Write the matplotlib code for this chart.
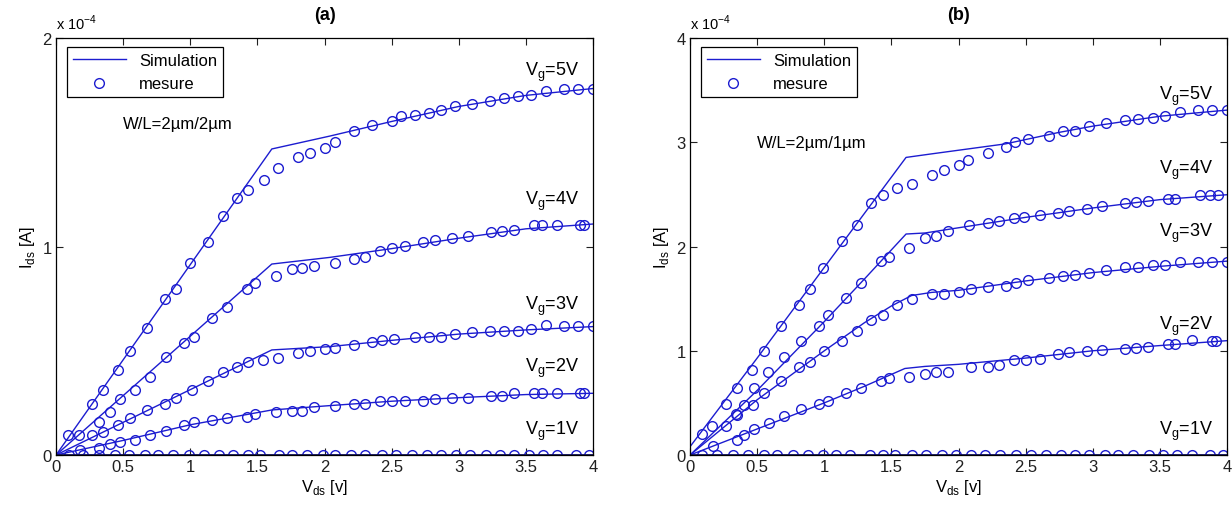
import matplotlib
matplotlib.use('Agg')
import matplotlib.pyplot as plt
from matplotlib.lines import Line2D

plt.rcParams['font.family'] = ['Liberation Sans Narrow', 'Liberation Sans', 'DejaVu Sans']
plt.rcParams['mathtext.fontset'] = 'custom'
plt.rcParams['mathtext.rm'] = 'Liberation Sans'

BLUE = '#1c1cd0'

# ---------- (a) W/L = 2um/2um, Ids in 1e-4 A ----------
a_sim_x = [0, 1.607, 2.04, 2.5, 3.0, 3.5, 4.0]
a_sim5 = [0, 1.468, 1.53, 1.60, 1.672, 1.725, 1.758]
a_sim4 = [0, 0.916, 0.948, 0.99, 1.04, 1.085, 1.108]
a_sim3 = [0, 0.504, 0.52, 0.55, 0.58, 0.60, 0.616]
a_sim2_x = [0, 0.5, 1.0, 1.607, 2.04, 2.5, 3.0, 3.5, 4.0]
a_sim2 = [0, 0.07, 0.145, 0.216, 0.237, 0.258, 0.275, 0.29, 0.296]
a_sim1_x = [0, 4.0]
a_sim1 = [0, 0]

a_m5_x = [0.09, 0.27, 0.35, 0.46, 0.55, 0.68, 0.81, 0.89, 1.0, 1.13, 1.24, 1.35,
          1.43, 1.55, 1.65, 1.8, 1.89, 2.0, 2.08, 2.22, 2.35, 2.5, 2.57, 2.67,
          2.78, 2.87, 2.97, 3.1, 3.23, 3.34, 3.44, 3.54, 3.65, 3.78, 3.89, 4.0]
a_m5 = [0.097, 0.245, 0.312, 0.409, 0.497, 0.607, 0.748, 0.796, 0.919, 1.02, 1.148, 1.231,
        1.273, 1.32, 1.375, 1.431, 1.448, 1.472, 1.50, 1.556, 1.584, 1.60, 1.626, 1.632,
        1.642, 1.653, 1.672, 1.683, 1.70, 1.712, 1.723, 1.728, 1.744, 1.754, 1.755, 1.755]
a_m4_x = [0.17, 0.32, 0.4, 0.48, 0.59, 0.7, 0.82, 0.95, 1.03, 1.16, 1.27, 1.42,
          1.48, 1.64, 1.76, 1.83, 1.92, 2.08, 2.22, 2.3, 2.41, 2.5, 2.6, 2.73,
          2.82, 2.95, 3.07, 3.24, 3.32, 3.41, 3.56, 3.62, 3.73, 3.9, 3.93]
a_m4 = [0.097, 0.157, 0.205, 0.269, 0.313, 0.373, 0.469, 0.537, 0.567, 0.657, 0.708, 0.796,
        0.825, 0.86, 0.892, 0.895, 0.908, 0.919, 0.94, 0.948, 0.977, 0.993, 1.004, 1.02,
        1.031, 1.041, 1.052, 1.068, 1.076, 1.079, 1.103, 1.103, 1.103, 1.105, 1.105]
a_m3_x = [0.27, 0.35, 0.46, 0.55, 0.68, 0.81, 0.89, 1.01, 1.13, 1.24, 1.35, 1.43,
          1.54, 1.65, 1.8, 1.89, 2.0, 2.08, 2.22, 2.35, 2.43, 2.52, 2.67, 2.78,
          2.87, 2.97, 3.1, 3.23, 3.34, 3.44, 3.54, 3.65, 3.78, 3.89, 4.0]
a_m3 = [0.097, 0.112, 0.144, 0.176, 0.216, 0.245, 0.273, 0.313, 0.357, 0.397, 0.424, 0.444,
        0.456, 0.465, 0.488, 0.497, 0.507, 0.513, 0.529, 0.54, 0.552, 0.557, 0.564, 0.564,
        0.568, 0.58, 0.588, 0.593, 0.593, 0.593, 0.604, 0.624, 0.62, 0.62, 0.62]
a_m2_x = [0.18, 0.32, 0.4, 0.48, 0.59, 0.7, 0.82, 0.95, 1.03, 1.16, 1.27, 1.42,
          1.48, 1.64, 1.76, 1.83, 1.92, 2.08, 2.22, 2.3, 2.41, 2.5, 2.6, 2.73,
          2.82, 2.95, 3.07, 3.24, 3.32, 3.41, 3.56, 3.62, 3.73, 3.9, 3.93]
a_m2 = [0.025, 0.034, 0.053, 0.061, 0.072, 0.097, 0.117, 0.144, 0.157, 0.168, 0.177, 0.184,
        0.197, 0.205, 0.213, 0.213, 0.229, 0.237, 0.245, 0.245, 0.26, 0.26, 0.257, 0.257,
        0.269, 0.273, 0.273, 0.284, 0.284, 0.296, 0.296, 0.296, 0.296, 0.296, 0.296]
a_m1_x = [0.1, 0.2, 0.32, 0.44, 0.54, 0.66, 0.76, 0.87, 0.99, 1.1, 1.21, 1.32,
          1.43, 1.52, 1.66, 1.76, 1.87, 1.99, 2.08, 2.2, 2.3, 2.43, 2.53, 2.65,
          2.76, 2.87, 2.98, 3.08, 3.2, 3.31, 3.41, 3.52, 3.63, 3.73, 3.87, 3.97]
a_m1 = [0.0] * len(a_m1_x)

# ---------- (b) W/L = 2um/1um ----------
b_sim5_x = [0, 0.5, 1.0, 1.3, 1.609, 1.788, 2.35, 2.744, 3.0, 3.5, 4.0]
b_sim5 = [0.08, 0.93, 1.8, 2.32, 2.855, 2.887, 2.985, 3.094, 3.155, 3.25, 3.309]
b_sim4_x = [0, 0.5, 1.0, 1.3, 1.609, 1.75, 2.0, 2.5, 3.0, 3.5, 4.0]
b_sim4 = [0, 0.62, 1.28, 1.69, 2.12, 2.13, 2.18, 2.28, 2.37, 2.45, 2.497]
b_sim3_x = [0, 0.5, 1.0, 1.3, 1.5, 1.65, 1.8, 2.0, 2.5, 3.0, 3.5, 4.0]
b_sim3 = [0, 0.53, 1.0, 1.27, 1.43, 1.53, 1.56, 1.58, 1.67, 1.75, 1.81, 1.86]
b_sim2_x = [0, 0.2, 0.5, 1.0, 1.3, 1.6, 1.75, 2.0, 2.5, 3.0, 3.5, 4.0]
b_sim2 = [0, 0.1, 0.25, 0.5, 0.66, 0.83, 0.85, 0.87, 0.93, 1.0, 1.05, 1.097]
b_sim1_x = [0, 4.0]
b_sim1 = [0, 0]

b_m5_x = [0.09, 0.16, 0.27, 0.35, 0.46, 0.55, 0.68, 0.81, 0.89, 0.99, 1.13, 1.24,
          1.35, 1.44, 1.54, 1.65, 1.8, 1.89, 2.0, 2.07, 2.22, 2.35, 2.42, 2.52,
          2.67, 2.78, 2.87, 2.97, 3.1, 3.24, 3.34, 3.45, 3.54, 3.65, 3.78, 3.89, 4.0]
b_m5 = [0.201, 0.281, 0.489, 0.643, 0.815, 0.995, 1.241, 1.442, 1.592, 1.794, 2.056, 2.209,
        2.414, 2.497, 2.561, 2.60, 2.689, 2.734, 2.785, 2.83, 2.897, 2.958, 2.999, 3.028,
        3.057, 3.105, 3.11, 3.156, 3.181, 3.213, 3.222, 3.232, 3.255, 3.287, 3.309, 3.309, 3.309]
b_m4_x = [0.34, 0.4, 0.48, 0.58, 0.7, 0.83, 0.96, 1.03, 1.16, 1.27, 1.42, 1.48,
          1.63, 1.75, 1.83, 1.92, 2.08, 2.22, 2.3, 2.41, 2.49, 2.61, 2.74, 2.82,
          2.96, 3.07, 3.24, 3.32, 3.41, 3.56, 3.61, 3.8, 3.87, 3.93]
b_m4 = [0.393, 0.483, 0.643, 0.793, 0.943, 1.096, 1.241, 1.346, 1.506, 1.647, 1.858, 1.896,
        1.986, 2.082, 2.104, 2.146, 2.209, 2.222, 2.241, 2.273, 2.286, 2.302, 2.321, 2.344,
        2.36, 2.392, 2.417, 2.43, 2.44, 2.455, 2.455, 2.497, 2.497, 2.497]
b_m3_x = [0.27, 0.35, 0.47, 0.55, 0.68, 0.81, 0.89, 1.0, 1.13, 1.24, 1.35, 1.44,
          1.54, 1.65, 1.8, 1.89, 2.0, 2.09, 2.22, 2.35, 2.43, 2.52, 2.67, 2.78,
          2.87, 2.97, 3.1, 3.24, 3.34, 3.45, 3.54, 3.65, 3.78, 3.89, 4.0]
b_m3 = [0.281, 0.387, 0.483, 0.592, 0.713, 0.841, 0.889, 0.995, 1.097, 1.186, 1.295, 1.343,
        1.439, 1.496, 1.544, 1.544, 1.567, 1.592, 1.615, 1.624, 1.647, 1.679, 1.698, 1.714,
        1.727, 1.743, 1.775, 1.80, 1.80, 1.826, 1.826, 1.848, 1.848, 1.848, 1.848]
b_m2_x = [0.17, 0.35, 0.4, 0.48, 0.59, 0.7, 0.83, 0.96, 1.03, 1.16, 1.27, 1.42,
          1.48, 1.63, 1.75, 1.83, 1.92, 2.09, 2.22, 2.3, 2.41, 2.5, 2.61, 2.74,
          2.82, 2.96, 3.07, 3.24, 3.32, 3.41, 3.56, 3.61, 3.74, 3.89, 3.92]
b_m2 = [0.09, 0.144, 0.195, 0.249, 0.307, 0.371, 0.441, 0.489, 0.521, 0.595, 0.643, 0.713,
        0.735, 0.745, 0.777, 0.793, 0.793, 0.841, 0.841, 0.866, 0.911, 0.911, 0.92, 0.969,
        0.985, 0.995, 1.008, 1.017, 1.027, 1.039, 1.065, 1.065, 1.103, 1.097, 1.097]
b_m1_x = [0.09, 0.2, 0.32, 0.43, 0.55, 0.65, 0.77, 0.88, 0.99, 1.09, 1.19, 1.34,
          1.44, 1.53, 1.65, 1.76, 1.88, 1.98, 2.09, 2.2, 2.31, 2.43, 2.54, 2.65,
          2.76, 2.87, 2.97, 3.09, 3.19, 3.3, 3.42, 3.52, 3.63, 3.74, 3.87, 3.97]
b_m1 = [0.0] * len(b_m1_x)

vg_labels = ['5V', '4V', '3V', '2V', '1V']
a_label_y = [1.84, 1.22, 0.716, 0.42, 0.117]
b_label_y = [3.447, 2.743, 2.136, 1.24, 0.233]
x_ticks = [0, 0.5, 1, 1.5, 2, 2.5, 3, 3.5, 4]
x_tick_labels = ['0', '0.5', '1', '1.5', '2', '2.5', '3', '3.5', '4']

fig = plt.figure(figsize=(12.32, 5.06), dpi=100)
ax_a = fig.add_axes([0.0455, 0.0988, 0.4359, 0.824])
ax_b = fig.add_axes([0.5601, 0.0988, 0.4359, 0.824])


def draw_panel(ax, sims, meas, ymax, yticks, title, wl_text, wl_y, label_y):
    for sx, sy in sims:
        ax.plot(sx, sy, '-', color=BLUE, lw=1.0)
    for mx, my in meas:
        ax.plot(mx, my, 'o', mfc='none', mec=BLUE, ms=7, mew=1.0)
    ax.plot([0, 4], [0, 0], '-', color='#101060', lw=2.0)
    ax.set_xlim(0, 4)
    ax.set_ylim(0, ymax)
    ax.set_xticks(x_ticks)
    ax.set_xticklabels(x_tick_labels)
    ax.set_yticks(yticks)
    ax.set_yticklabels([str(t) for t in yticks])
    ax.tick_params(direction='in', top=True, right=True, length=5, width=0.8,
                   labelsize=12, colors='#202020', pad=3)
    for s in ax.spines.values():
        s.set_linewidth(0.9)
    ax.set_xlabel(r'V$_{\mathregular{ds}}$ [v]', fontsize=12, labelpad=2)
    ax.set_ylabel(r'I$_{\mathregular{ds}}$ [A]', fontsize=12, labelpad=4)
    ax.set_title(title, fontsize=13, fontweight='bold', pad=14)
    ax.text(0.0, 1.015, r'x 10$^{\mathregular{-4}}$', transform=ax.transAxes,
            fontsize=10.5, ha='left', va='bottom')
    ax.text(0.5, wl_y, wl_text, fontsize=12, ha='left', va='center')
    for lab, ly in zip(vg_labels, label_y):
        ax.text(3.49, ly, r'V$_{\mathregular{g}}$=' + lab, fontsize=13,
                ha='left', va='center')
    handles = [Line2D([0], [0], color=BLUE, lw=1.0),
               Line2D([0], [0], ls='none', marker='o', mfc='none', mec=BLUE, ms=7)]
    leg = ax.legend(handles, ['Simulation', 'mesure'], loc='upper left',
                    bbox_to_anchor=(0.02, 0.978), borderaxespad=0, fancybox=False,
                    framealpha=1, edgecolor='black', fontsize=12, handlelength=3.2,
                    borderpad=0.35, labelspacing=0.5, handletextpad=0.8)
    leg.get_frame().set_linewidth(0.9)


draw_panel(ax_a,
           [(a_sim_x, a_sim5), (a_sim_x, a_sim4), (a_sim_x, a_sim3),
            (a_sim2_x, a_sim2), (a_sim1_x, a_sim1)],
           [(a_m5_x, a_m5), (a_m4_x, a_m4), (a_m3_x, a_m3),
            (a_m2_x, a_m2), (a_m1_x, a_m1)],
           2, [0, 1, 2], '(a)', 'W/L=2µm/2µm', 1.59, a_label_y)
draw_panel(ax_b,
           [(b_sim5_x, b_sim5), (b_sim4_x, b_sim4), (b_sim3_x, b_sim3),
            (b_sim2_x, b_sim2), (b_sim1_x, b_sim1)],
           [(b_m5_x, b_m5), (b_m4_x, b_m4), (b_m3_x, b_m3),
            (b_m2_x, b_m2), (b_m1_x, b_m1)],
           4, [0, 1, 2, 3, 4], '(b)', 'W/L=2µm/1µm', 3.0, b_label_y)

fig.savefig('out.png', dpi=100)
